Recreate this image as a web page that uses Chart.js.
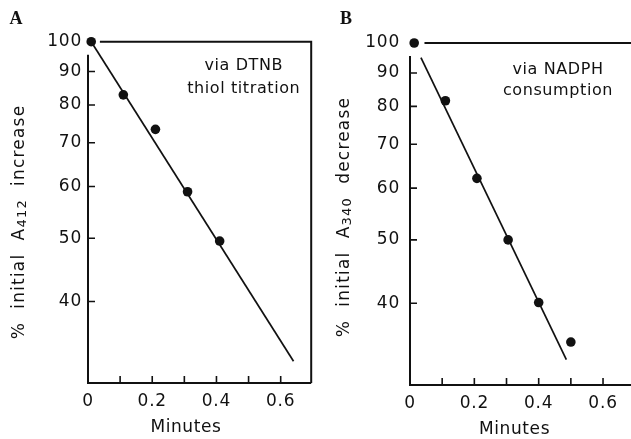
<!DOCTYPE html>
<html>
<head>
<meta charset="utf-8">
<script src="https://cdn.jsdelivr.net/npm/chart.js@4.4.0/dist/chart.umd.min.js"></script>
<style>
  html, body { margin: 0; padding: 0; background: #fff; overflow: hidden; width: 631px; height: 439px; }
  .panel { position: absolute; top: 0; }
  #panelA { left: 0; }
  #panelB { left: 316px; }
</style>
</head>
<body>
<div class="panel" id="panelA"><canvas id="chartA" width="316" height="439" style="width:316px;height:439px"></canvas></div>
<div class="panel" id="panelB"><canvas id="chartB" width="324" height="439" style="width:324px;height:439px"></canvas></div>
<script>
// panel A: DTNB thiol titration
const minutesA = [0.01, 0.11, 0.21, 0.31, 0.41];
const percentA = [100, 82.9, 73.4, 58.9, 49.5];
const fitMinutesA = [0.01, 0.64];
const fitPercentA = [100, 32.4];

// panel B: NADPH consumption
const minutesB = [0.013, 0.11, 0.208, 0.305, 0.40, 0.50];
const percentB = [100, 81.6, 62.1, 50, 40.1, 34.9];
const fitMinutesB = [0.034, 0.486];
const fitPercentB = [95, 32.8];

const yTicks = [40, 50, 60, 70, 80, 90, 100];
const yMarks = [40, 50, 60, 70, 80, 90];
const xTicks = [0, 0.2, 0.4, 0.6];
const xTickLabels = ['0', '0.2', '0.4', '0.6'];
const xMarks = [0.1, 0.2, 0.3, 0.4, 0.5, 0.6];

const INK = '#111';
const FONT = '"DejaVu Sans", sans-serif';

function pairs(xs, ys) {
  return xs.map((x, i) => ({ x, y: ys[i] }));
}

// axes, inward ticks, 100% line, titles and notes
const framePlugin = {
  id: 'frame',
  beforeDraw(chart) {
    chart.ctx.letterSpacing = '0.8px';
  },
  afterDraw(chart) {
    const o = chart.options.plugins.frame;
    const { ctx, chartArea: ca } = chart;
    const x = chart.scales.x, y = chart.scales.y;
    ctx.save();
    ctx.strokeStyle = INK;
    ctx.lineWidth = 2;
    ctx.beginPath();
    ctx.moveTo(ca.left, y.getPixelForValue(o.axisTop));
    ctx.lineTo(ca.left, ca.bottom);
    ctx.lineTo(ca.right, ca.bottom);
    ctx.moveTo(x.getPixelForValue(o.refStart), y.getPixelForValue(100));
    ctx.lineTo(ca.right, y.getPixelForValue(100));
    if (o.rightBorder) ctx.lineTo(ca.right, ca.bottom);
    ctx.stroke();

    ctx.lineWidth = 1.6;
    ctx.beginPath();
    yMarks.forEach(v => {
      const py = y.getPixelForValue(v);
      ctx.moveTo(ca.left, py);
      ctx.lineTo(ca.left + 7, py);
    });
    xMarks.forEach(v => {
      const px = x.getPixelForValue(v);
      ctx.moveTo(px, ca.bottom);
      ctx.lineTo(px, ca.bottom - 7);
    });
    ctx.stroke();

    ctx.fillStyle = INK;
    // panel letter
    ctx.letterSpacing = '0px';
    ctx.font = 'bold 18px "Liberation Serif", serif';
    ctx.textAlign = 'center';
    ctx.textBaseline = 'middle';
    ctx.fillText(o.letter, o.letterX, 19);

    // notes
    ctx.letterSpacing = '0.6px';
    ctx.font = '16px ' + FONT;
    o.note.forEach((line, i) => {
      ctx.fillText(line, x.getPixelForValue(o.noteX), y.getPixelForValue(o.noteY[i]));
    });

    // x title
    ctx.font = '17px ' + FONT;
    ctx.fillText('Minutes', x.getPixelForValue(o.minutesX), ca.bottom + 45);

    // rotated y title with subscript
    ctx.translate(o.titleX, o.titleY);
    ctx.rotate(-Math.PI / 2);
    ctx.textAlign = 'left';
    ctx.textBaseline = 'alphabetic';
    ctx.letterSpacing = '1.2px';
    const parts = o.title;
    const widths = parts.map(p => {
      ctx.font = (p.sub ? '13px ' : '17px ') + FONT;
      return ctx.measureText(p.t).width;
    });
    let cx = -widths.reduce((a, b) => a + b, 0) / 2;
    parts.forEach((p, i) => {
      ctx.font = (p.sub ? '13px ' : '17px ') + FONT;
      ctx.fillText(p.t, cx, p.sub ? 8 : 6);
      cx += widths[i];
    });
    ctx.restore();
  }
};

function makeChart(id, pts, fit, cfg) {
  return new Chart(document.getElementById(id), {
    type: 'scatter',
    data: {
      datasets: [
        {
          data: fit,
          showLine: true,
          borderColor: INK,
          borderWidth: 1.7,
          pointRadius: 0,
          clip: false
        },
        {
          data: pts,
          backgroundColor: INK,
          borderWidth: 0,
          pointRadius: 4.8,
          clip: false
        }
      ]
    },
    options: {
      responsive: false,
      animation: false,
      events: [],
      layout: { padding: { top: cfg.top, right: cfg.right, left: 0, bottom: 0 } },
      plugins: {
        legend: { display: false },
        tooltip: { enabled: false },
        frame: cfg.frame
      },
      scales: {
        x: {
          type: 'linear',
          min: 0,
          max: cfg.xMax,
          grid: { display: false, drawTicks: false },
          border: { display: false },
          afterFit: s => { s.height = cfg.xHeight; },
          afterBuildTicks: s => { s.ticks = xTicks.map(v => ({ value: v })); },
          ticks: {
            autoSkip: false,
            maxRotation: 0,
            padding: 8,
            color: INK,
            font: { family: FONT, size: 17 },
            callback: (v, i) => xTickLabels[i]
          }
        },
        y: {
          type: 'logarithmic',
          min: 30,
          max: 100,
          grid: { display: false, drawTicks: false },
          border: { display: false },
          afterFit: s => { s.width = cfg.yWidth; },
          afterBuildTicks: s => { s.ticks = yTicks.map(v => ({ value: v })); },
          ticks: {
            padding: cfg.yPad,
            color: INK,
            font: { family: FONT, size: 17 },
            callback: v => String(v)
          }
        }
      }
    },
    plugins: [framePlugin]
  });
}

makeChart('chartA', pairs(minutesA, percentA), pairs(fitMinutesA, fitPercentA), {
  top: 41.7, right: 1, xMax: 0.695, xHeight: 56, yWidth: 88, yPad: 6,
  frame: {
    letter: 'A', letterX: 16, axisTop: 95.5, refStart: 0.037, rightBorder: true,
    note: ['via DTNB', 'thiol titration'], noteX: 0.485, noteY: [91.8, 84.6],
    minutesX: 0.305, titleX: 18, titleY: 222,
    title: [{ t: '%  initial  A' }, { t: '412', sub: true }, { t: '  increase' }]
  }
});

makeChart('chartB', pairs(minutesB, percentB), pairs(fitMinutesB, fitPercentB), {
  top: 43, right: 0, xMax: 0.7, xHeight: 54, yWidth: 94, yPad: 10,
  frame: {
    letter: 'B', letterX: 30, axisTop: 95.5, refStart: 0.045, rightBorder: false,
    note: ['via NADPH', 'consumption'], noteX: 0.46, noteY: [91, 84.5],
    minutesX: 0.325, titleX: 27, titleY: 217,
    title: [{ t: '%  initial  A' }, { t: '340', sub: true }, { t: '  decrease' }]
  }
});
</script>
</body>
</html>
